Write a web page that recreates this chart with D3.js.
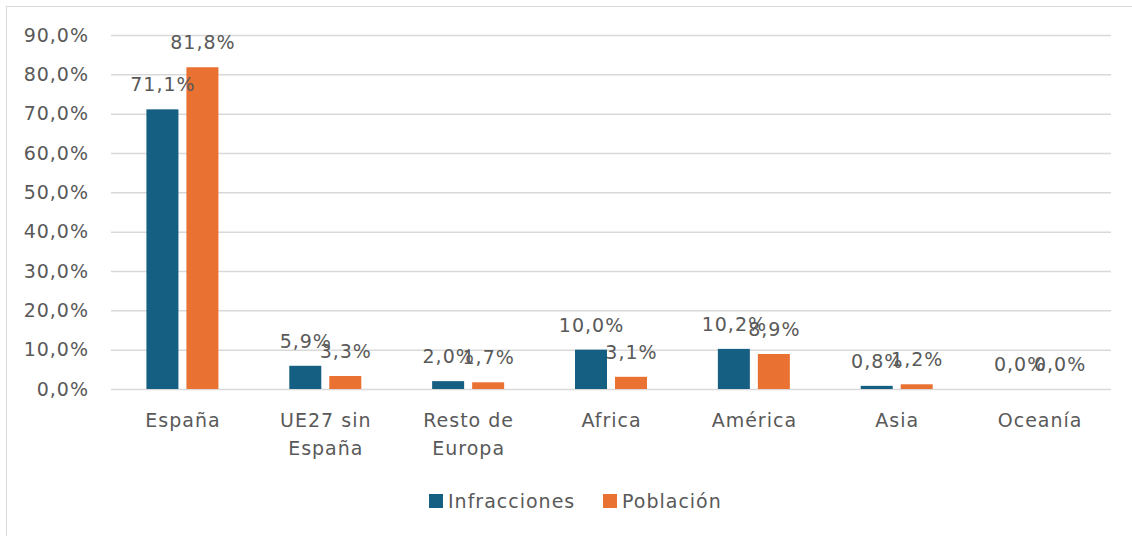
<!DOCTYPE html>
<html>
	<head>
		<meta http-equiv="Content-Type" content="text/html;charset=utf-8"/>
		<title>Infracciones y población por origen</title>
		<script type="text/javascript" src="https://cdn.jsdelivr.net/npm/d3@7"></script>
		<style type="text/css">
			body { margin: 0; background: #fff; }
			text { font-family: "DejaVu Sans", sans-serif; fill: #595959; letter-spacing: 1px; }
			.grid line { stroke: #d9d9d9; stroke-width: 1.5; }
		</style>
	</head>
	<body>
		<script type="text/javascript">

			//Chart data
			var categories = ["España", "UE27 sin\nEspaña", "Resto de\nEuropa", "Africa", "América", "Asia", "Oceanía"];
			var series = ["Infracciones", "Población"];
			var infracciones = [71.1, 5.9, 2.0, 10.0, 10.2, 0.8, 0.0];
			var poblacion = [81.8, 3.3, 1.7, 3.1, 8.9, 1.2, 0.0];
			var yTicks = [0, 10, 20, 30, 40, 50, 60, 70, 80, 90];
			var colors = ["#156082", "#e97132"];

			var w = 1132, h = 536;
			var fmt = function(d) { return d.toFixed(1).replace(".", ",") + "%"; };

			var svg = d3.select("body").append("svg")
						.attr("width", w)
						.attr("height", h);

			//chart border
			svg.append("rect")
				.attr("x", 6.5).attr("y", 6.5)
				.attr("width", 1140).attr("height", 540)
				.attr("fill", "none")
				.attr("stroke", "#d9d9d9");

			var x = d3.scaleBand().domain(categories).range([111, 1111]);
			var x1 = d3.scaleBand().domain(series).range([0, 72]).paddingInner(0.2);
			var y = d3.scaleLinear().domain([0, 90]).range([389, 35]);

			//gridlines + tick labels
			var g = svg.append("g").attr("class", "grid")
				.attr("transform", "translate(111,0)")
				.call(d3.axisLeft(y).tickValues(yTicks).tickSize(-1000).tickPadding(22).tickFormat(fmt));
			g.select(".domain").remove();
			g.selectAll("text").attr("font-size", 19).attr("fill", "#595959").attr("font-family", "DejaVu Sans");

			var rows = categories.map(function(c, i) {
				return { cat: c, vals: [infracciones[i], poblacion[i]] };
			});

			var groups = svg.selectAll("g.cat")
				.data(rows)
				.enter()
				.append("g")
				.attr("class", "cat")
				.attr("transform", function(d) {
					return "translate(" + (x(d.cat) + x.bandwidth() / 2 - 36) + ",0)";
				});

			//bars
			groups.selectAll("rect")
				.data(function(d) { return d.vals.map(function(v, j) { return { s: series[j], v: v, j: j }; }); })
				.enter()
				.append("rect")
				.attr("x", function(d) { return x1(d.s); })
				.attr("width", x1.bandwidth())
				.attr("y", function(d) { return y(d.v); })
				.attr("height", function(d) { return y(0) - y(d.v); })
				.attr("fill", function(d) { return colors[d.j]; });

			//value labels
			groups.selectAll("text.val")
				.data(function(d) { return d.vals.map(function(v, j) { return { s: series[j], v: v }; }); })
				.enter()
				.append("text")
				.attr("class", "val")
				.attr("x", function(d) { return x1(d.s) + x1.bandwidth() / 2 + 0.5; })
				.attr("y", function(d) { return y(d.v) - 18; })
				.attr("text-anchor", "middle")
				.attr("font-size", 19)
				.text(function(d) { return fmt(d.v); });

			//category labels
			svg.selectAll("text.cat")
				.data(categories)
				.enter()
				.append("text")
				.attr("class", "cat")
				.attr("text-anchor", "middle")
				.attr("font-size", 19)
				.attr("transform", function(d) { return "translate(" + (x(d) + x.bandwidth() / 2 + 0.5) + ",427)"; })
				.selectAll("tspan")
				.data(function(d) { return d.split("\n"); })
				.enter()
				.append("tspan")
				.attr("x", 0)
				.attr("dy", function(d, i) { return i ? 28 : 0; })
				.text(function(d) { return d; });

			//legend
			var lx = [429, 603];
			var leg = svg.selectAll("g.leg")
				.data(series)
				.enter()
				.append("g")
				.attr("class", "leg")
				.attr("transform", function(d, i) { return "translate(" + lx[i] + ",494)"; });
			leg.append("rect")
				.attr("width", 14).attr("height", 14)
				.attr("fill", function(d, i) { return colors[i]; });
			leg.append("text")
				.attr("x", 19).attr("y", 14)
				.attr("font-size", 19)
				.text(function(d) { return d; });

		</script>
	</body>
</html>
